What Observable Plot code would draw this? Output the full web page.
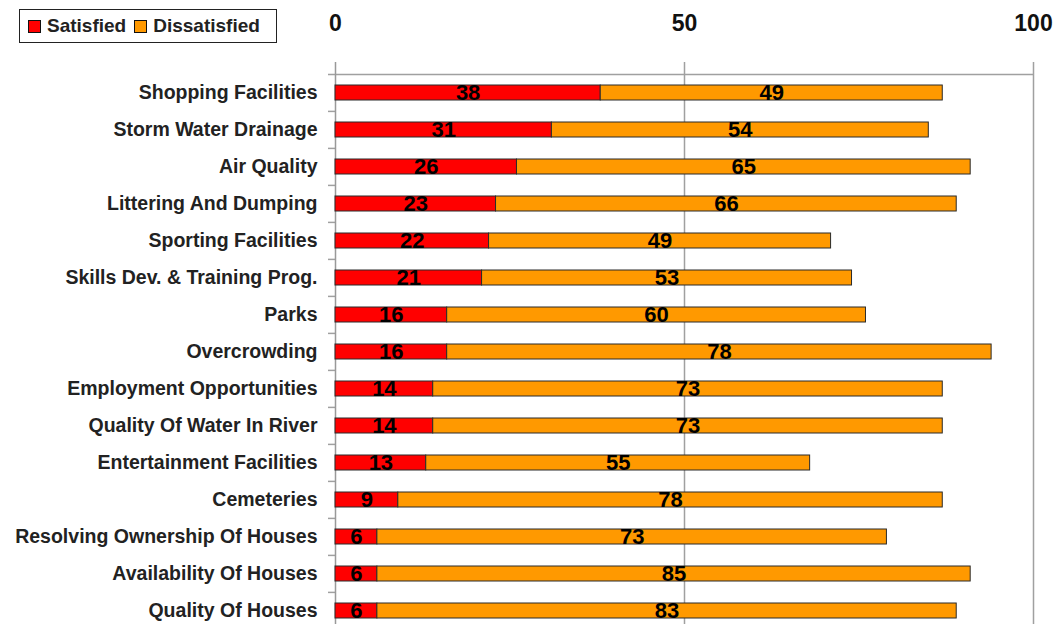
<!DOCTYPE html>
<html><head><meta charset="utf-8">
<script src="https://cdn.jsdelivr.net/npm/d3@7"></script>
<script src="https://cdn.jsdelivr.net/npm/@observablehq/plot@0.6"></script>
<style>
html,body{margin:0;padding:0;background:#fff;overflow:hidden;}
#wrap{position:relative;width:1061px;height:624px;overflow:hidden;}
#wrap svg{position:absolute;left:0;top:0;}
.legend{position:absolute;left:19px;top:9px;width:256px;height:32px;border:1.5px solid #222;font:bold 19px "Liberation Sans",Arial,sans-serif;color:#222;display:flex;align-items:center;z-index:2;background:#fff;}
.legend .sw{display:inline-block;width:11px;height:11px;border:1px solid #111;margin:0 6px 0 0;}
.legend .item{display:flex;align-items:center;margin-left:8px;}
</style>
</head><body>
<div id="wrap"></div>
<script>
const categories = ["Shopping Facilities","Storm Water Drainage","Air Quality","Littering And Dumping","Sporting Facilities","Skills Dev. & Training Prog.","Parks","Overcrowding","Employment Opportunities","Quality Of Water In River","Entertainment Facilities","Cemeteries","Resolving Ownership Of Houses","Availability Of Houses","Quality Of Houses"];
const satisfied = [38,31,26,23,22,21,16,16,14,14,13,9,6,6,6];
const dissatisfied = [49,54,65,66,49,53,60,78,73,73,55,78,73,85,83];
const series = ["Satisfied","Dissatisfied"];
const colors = ["#ff0000","#ff9900"];
const xTicks = [0,50,100];

const rows = [];
categories.forEach((c,i)=>{
  rows.push({category:c, status:series[0], value:satisfied[i]});
  rows.push({category:c, status:series[1], value:dissatisfied[i]});
});

const half = 18.6;
const chart = Plot.plot({
  width:1061, height:630,
  marginLeft:335, marginRight:28, marginTop:72, marginBottom:0,
  style:{fontFamily:"'Liberation Sans', Arial, sans-serif", background:"transparent"},
  x:{domain:[0,100]},
  y:{domain:categories, paddingInner:0.6, paddingOuter:0.3},
  color:{domain:series, range:colors},
  marks:[
    Plot.ruleX(xTicks.slice(1), {stroke:"#a0a0a0", strokeWidth:1.5, insetTop:-10}),
    Plot.ruleY(categories.slice(0,1), {y:d=>d, dy:-half, insetLeft:-7, stroke:"#a0a0a0", strokeWidth:1.5}),
    Plot.ruleY(categories.slice(1), {y:d=>d, x1:0, x2:0, dy:-half, insetLeft:-7, stroke:"#a0a0a0", strokeWidth:1.5}),
    Plot.ruleX([0], {stroke:"#999", strokeWidth:1.5, insetTop:-10}),
    Plot.barX(rows, Plot.stackX({x:"value", y:"category", z:"status", fill:"status", order:series, stroke:"#2a2a2a", strokeWidth:1})),
    Plot.text(rows, Plot.stackX({x:"value", y:"category", z:"status", text:"value", order:series, fontSize:22, fontWeight:"bold", fill:"#000"})),
    Plot.axisX(xTicks, {anchor:"top", tickSize:0, tickPadding:42, fontSize:23, fontWeight:"bold", fill:"#111", label:null}),
    Plot.axisY({tickSize:0, tickPadding:18, fontSize:19.5, fontWeight:"bold", fill:"#222", label:null})
  ]
});
const wrap = document.getElementById("wrap");
wrap.appendChild(chart);
const leg = document.createElement("div");
leg.className = "legend";
series.forEach((s,i)=>{
  const it = document.createElement("span");
  it.className = "item";
  it.innerHTML = `<span class="sw" style="background:${colors[i]}"></span>${s}`;
  leg.appendChild(it);
});
wrap.appendChild(leg);
</script>
</body></html>
